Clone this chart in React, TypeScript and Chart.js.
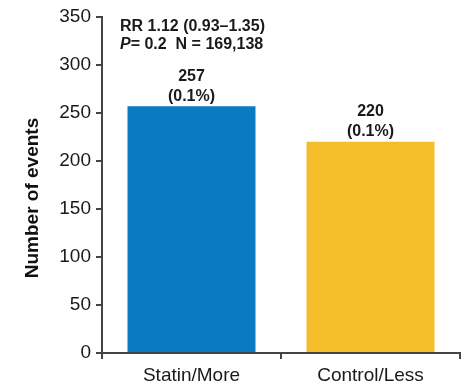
import React, { useEffect, useRef } from "react";
import { Chart, registerables } from "chart.js";

Chart.register(...registerables);

const categories = ["Statin/More", "Control/Less"];
const eventCounts = [257, 220];
const percentLabels = ["(0.1%)", "(0.1%)"];
const barColors = ["#0A7BC2", "#F4BD2A"];
const yTicks = { min: 0, max: 350, step: 50 };
const statLine1 = "RR 1.12 (0.93\u20131.35)";
const statLine2P = "P";
const statLine2Rest = "= 0.2  N = 169,138";
const yTitle = "Number of events";

const FONT = "'Liberation Sans', Arial, sans-serif";

const annotate = {
  id: "annotate",
  afterDatasetsDraw(chart: any) {
    const { ctx, chartArea } = chart;
    const meta = chart.getDatasetMeta(0);
    ctx.save();
    ctx.fillStyle = "#1a1a1a";
    ctx.textAlign = "center";
    ctx.textBaseline = "middle";
    ctx.font = `bold 16px ${FONT}`;
    meta.data.forEach((bar: any, i: number) => {
      ctx.fillText(String(eventCounts[i]), bar.x, bar.y - 30);
      ctx.fillText(percentLabels[i], bar.x, bar.y - 10);
    });
    // stats text
    ctx.textAlign = "left";
    const sx = chartArea.left + 18;
    ctx.fillText(statLine1, sx, chartArea.top + 10);
    ctx.font = `italic bold 16px ${FONT}`;
    ctx.fillText(statLine2P, sx, chartArea.top + 28);
    const pw = ctx.measureText(statLine2P).width;
    ctx.font = `bold 16px ${FONT}`;
    ctx.fillText(statLine2Rest, sx + pw, chartArea.top + 28);
    // y title
    ctx.translate(33, (chartArea.top + chartArea.bottom) / 2 + 13);
    ctx.rotate(-Math.PI / 2);
    ctx.textAlign = "center";
    ctx.font = `bold 19px ${FONT}`;
    ctx.fillStyle = "#111";
    ctx.fillText(yTitle, 0, 0);
    ctx.restore();
  },
};

export default function App() {
  const ref = useRef<HTMLCanvasElement>(null);
  useEffect(() => {
    if (!ref.current) return;
    const chart = new Chart(ref.current, {
      type: "bar",
      data: {
        labels: categories,
        datasets: [
          {
            data: eventCounts,
            backgroundColor: barColors,
            barPercentage: 0.715,
            categoryPercentage: 1,
          },
        ],
      },
      options: {
        animation: false,
        responsive: false,
        layout: { padding: { top: 17, right: 4, left: 0, bottom: 0 } },
        plugins: { legend: { display: false }, tooltip: { enabled: false } },
        scales: {
          x: {
            afterFit: (s: any) => {
              s.height = 32;
            },
            grid: {
              drawOnChartArea: false,
              tickLength: 6,
              tickColor: "#444",
              lineWidth: 2,
            },
            border: { color: "#444", width: 2 },
            ticks: {
              color: "#1a1a1a",
              font: { family: FONT, size: 19 },
              padding: 5,
            },
          },
          y: {
            min: yTicks.min,
            max: yTicks.max,
            afterFit: (s: any) => {
              s.width = 102;
            },
            grid: {
              drawOnChartArea: false,
              tickLength: 6,
              tickColor: "#444",
              lineWidth: 2,
            },
            border: { color: "#444", width: 2 },
            ticks: {
              stepSize: yTicks.step,
              color: "#1a1a1a",
              font: { family: FONT, size: 19 },
              padding: 5,
            },
          },
        },
      },
      plugins: [annotate],
    });
    return () => chart.destroy();
  }, []);
  return (
    <div style={{ position: "fixed", left: 0, top: 0, width: 464, height: 385, background: "#fff" }}>
      <canvas ref={ref} width={464} height={385} style={{ width: 464, height: 385 }} />
    </div>
  );
}
